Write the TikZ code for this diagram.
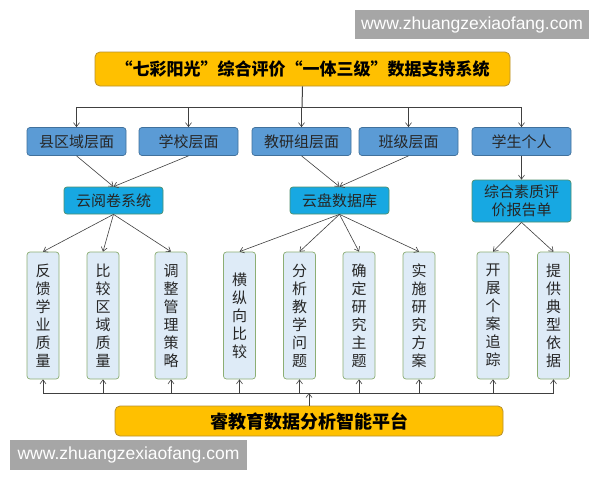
\documentclass[tikz,border=0pt]{standalone}
\usepackage{fontspec}
\setmainfont{Noto Sans CJK SC}
\newfontfamily\wmfont{Liberation Sans}
\usetikzlibrary{arrows.meta}
\definecolor{gold}{HTML}{FFC000}
\definecolor{goldline}{HTML}{B8902E}
\definecolor{lvfill}{HTML}{5B9BD5}
\definecolor{lvline}{HTML}{41719C}
\definecolor{cyfill}{HTML}{17A8E2}
\definecolor{cyline}{HTML}{4E8F6E}
\definecolor{tlfill}{HTML}{DEEBF7}
\definecolor{tlline}{HTML}{8CAE74}
\definecolor{wmgray}{HTML}{A6A6A6}
\definecolor{conn}{HTML}{404040}
\begin{document}
\begin{tikzpicture}[x=1pt,y=-1pt,
  titlebox/.style={draw=goldline,fill=gold,rounded corners=5pt,line width=0.8pt,minimum width=415pt,minimum height=34pt,font=\fontsize{17}{20}\selectfont\bfseries,inner sep=0pt},
  platbox/.style={draw=goldline,fill=gold,rounded corners=5pt,line width=0.8pt,minimum width=388pt,minimum height=30pt,font=\fontsize{18}{20}\selectfont\bfseries,inner sep=0pt},
  lvbox/.style={draw=lvline,fill=lvfill,rounded corners=3pt,line width=0.7pt,minimum width=99pt,minimum height=28pt,font=\fontsize{15}{18}\selectfont,text=black!85,inner sep=0pt},
  cybox/.style={draw=cyline,fill=cyfill,rounded corners=3pt,line width=0.7pt,minimum width=99pt,minimum height=27pt,font=\fontsize{15}{18}\selectfont,text=black!85,inner sep=0pt,align=center},
  tallbox/.style={draw=tlline,fill=tlfill,rounded corners=3pt,line width=0.7pt,minimum width=32pt,minimum height=127pt,font=\fontsize{15}{18}\selectfont,text=black!85,inner sep=0pt,align=center},
  wm/.style={fill=wmgray,text=white,font=\wmfont\fontsize{17.5}{20}\selectfont,inner sep=0pt},
  arr/.style={draw=conn,line width=0.6pt,-{Straight Barb[length=4pt,width=6pt]}},
  ln/.style={draw=conn,line width=0.6pt}]
\useasboundingbox (0,0) rectangle (600,480);
\fill[white] (0,0) rectangle (600,480);
% watermarks
\node[wm,minimum width=234pt,minimum height=29pt] (wm1) at (472,24.5) {www.zhuangzexiaofang.com};
\node[wm,minimum width=237pt,minimum height=30pt] (wm2) at (128.5,455) {www.zhuangzexiaofang.com};
% title
\node[titlebox] (title) at (302.5,69) {“七彩阳光”综合评价“一体三级”数据支持系统};
% level boxes
\node[lvbox] (l1) at (76.5,141.5) {县区域层面};
\node[lvbox] (l2) at (188.5,141.5) {学校层面};
\node[lvbox] (l3) at (301.5,141.5) {教研组层面};
\node[lvbox] (l4) at (408.5,141.5) {班级层面};
\node[lvbox] (l5) at (521.5,141.5) {学生个人};
% second level
\node[cybox] (y1) at (113.5,200.5) {云阅卷系统};
\node[cybox] (y2) at (339.5,200.5) {云盘数据库};
\node[cybox,minimum height=42pt] (y3) at (521.5,201) {综合素质评\\价报告单};
% tall boxes
\node[tallbox] (b1) at (43,315.5) {反\\馈\\学\\业\\质\\量};
\node[tallbox] (b2) at (103,315.5) {比\\较\\区\\域\\质\\量};
\node[tallbox] (b3) at (171,315.5) {调\\整\\管\\理\\策\\略};
\node[tallbox] (b4) at (239.5,315.5) {横\\纵\\向\\比\\较};
\node[tallbox] (b5) at (299.5,315.5) {分\\析\\教\\学\\问\\题};
\node[tallbox] (b6) at (359,315.5) {确\\定\\研\\究\\主\\题};
\node[tallbox] (b7) at (419,315.5) {实\\施\\研\\究\\方\\案};
\node[tallbox] (b8) at (493,315.5) {开\\展\\个\\案\\追\\踪};
\node[tallbox] (b9) at (553.5,315.5) {提\\供\\典\\型\\依\\据};
% platform
\node[platbox] (plat) at (309,421) {睿教育数据分析智能平台};
% top connectors
\coordinate (tb) at (302,107);
\draw[ln,line width=1pt] (title.south) -- (tb);
\draw[ln] (l1 |- tb) -- (l5 |- tb);
\draw[ln,line width=1pt] (l2 |- tb) -- (tb);
\foreach \n in {l1,l2,l3,l4,l5} \draw[arr] (\n |- tb) -- (\n.north);
% level -> second
\draw[arr] (l1.south) -- (y1.north);
\draw[arr] (l2.south) -- (y1.north);
\draw[arr] (l3.south) -- (y2.north);
\draw[arr] (l4.south) -- (y2.north);
\draw[arr] (l5.south) -- (y3.north);
% second -> tall
\foreach \n in {b1,b2,b3} \draw[arr] (y1.south) -- (\n.north);
\foreach \n in {b4,b5,b6,b7} \draw[arr] (y2.south) -- (\n.north);
\foreach \n in {b8,b9} \draw[arr] (y3.south) -- (\n.north);
% bottom connectors
\coordinate (bb) at (309,393);
\draw[ln] (b1 |- bb) -- (b9 |- bb);
\foreach \n in {b1,b2,b3,b4,b5,b6,b7,b8,b9} \draw[arr] (\n |- bb) -- (\n.south);
\draw[arr] (plat.north) -- (bb);
\end{tikzpicture}
\end{document}
